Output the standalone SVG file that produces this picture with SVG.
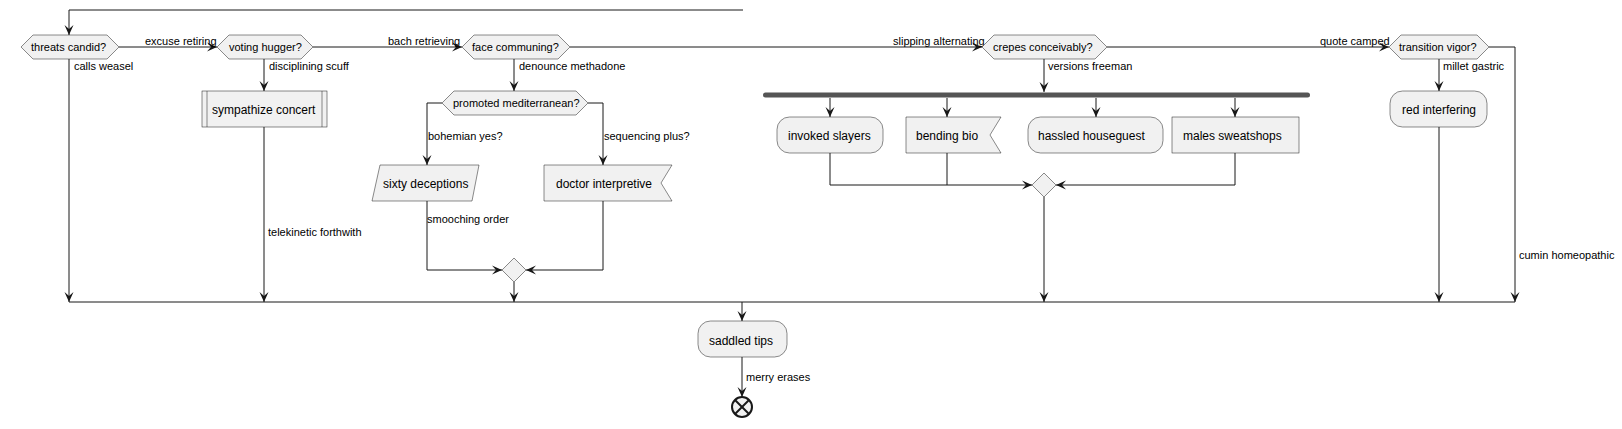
<svg xmlns="http://www.w3.org/2000/svg" width="1622" height="429" viewBox="0 0 1622 429">
<style>
.n{fill:#F1F1F1;stroke:#181818;stroke-width:0.5}
.t{font-family:"Liberation Sans",Arial,sans-serif;font-size:12px;fill:#000}
.h{font-family:"Liberation Sans",Arial,sans-serif;font-size:11px;fill:#000}
.l{font-family:"Liberation Sans",Arial,sans-serif;font-size:11px;fill:#000}
.c{fill:none;stroke:#181818;stroke-width:1}
</style>
<defs>
<marker id="a" viewBox="0 0 10 10" refX="10" refY="5" markerWidth="10" markerHeight="10" markerUnits="userSpaceOnUse" orient="auto">
<polygon points="0,0.5 10,5 0,9.5 4,5" fill="#181818"/>
</marker>
</defs>
<rect width="1622" height="429" fill="#FFFFFF"/>
<g id="connectors">
<polyline class="c" points="743,10 69,10 69,35" marker-end="url(#a)"/>
<line class="c" x1="119" y1="47" x2="217" y2="47" marker-end="url(#a)"/>
<line class="c" x1="313" y1="47" x2="462" y2="47" marker-end="url(#a)"/>
<line class="c" x1="570" y1="47" x2="982" y2="47" marker-end="url(#a)"/>
<line class="c" x1="1107" y1="47" x2="1389" y2="47" marker-end="url(#a)"/>
<line class="c" x1="69" y1="59" x2="69" y2="302" marker-end="url(#a)"/>
<line class="c" x1="264" y1="59" x2="264" y2="91" marker-end="url(#a)"/>
<line class="c" x1="264" y1="127" x2="264" y2="302" marker-end="url(#a)"/>
<line class="c" x1="514" y1="59" x2="514" y2="91" marker-end="url(#a)"/>
<polyline class="c" points="442,103 427,103 427,165" marker-end="url(#a)"/>
<polyline class="c" points="588,103 603,103 603,165" marker-end="url(#a)"/>
<polyline class="c" points="427,201 427,270 502,270" marker-end="url(#a)"/>
<polyline class="c" points="603,201 603,270 526,270" marker-end="url(#a)"/>
<line class="c" x1="514" y1="282" x2="514" y2="302" marker-end="url(#a)"/>
<line class="c" x1="1044" y1="59" x2="1044" y2="92" marker-end="url(#a)"/>
<line class="c" x1="830" y1="98" x2="830" y2="117" marker-end="url(#a)"/>
<line class="c" x1="947" y1="98" x2="947" y2="117" marker-end="url(#a)"/>
<line class="c" x1="1096" y1="98" x2="1096" y2="117" marker-end="url(#a)"/>
<line class="c" x1="1235" y1="98" x2="1235" y2="117" marker-end="url(#a)"/>
<polyline class="c" points="830,153 830,185 1032,185" marker-end="url(#a)"/>
<line class="c" x1="947" y1="153" x2="947" y2="185"/>
<polyline class="c" points="1235,153 1235,185 1056,185" marker-end="url(#a)"/>
<line class="c" x1="1044" y1="197" x2="1044" y2="302" marker-end="url(#a)"/>
<line class="c" x1="1439" y1="59" x2="1439" y2="91" marker-end="url(#a)"/>
<line class="c" x1="1439" y1="127" x2="1439" y2="302" marker-end="url(#a)"/>
<polyline class="c" points="1489,47 1515,47 1515,302" marker-end="url(#a)"/>
<line class="c" x1="69" y1="302" x2="1515" y2="302"/>
<line class="c" x1="742" y1="302" x2="742" y2="321" marker-end="url(#a)"/>
<line class="c" x1="742" y1="357" x2="742" y2="397" marker-end="url(#a)"/>
<text class="l" x="145" y="45">excuse retiring</text>
<text class="l" x="388" y="45">bach retrieving</text>
<text class="l" x="893" y="45">slipping alternating</text>
<text class="l" x="1320" y="45">quote camped</text>
<text class="l" x="74" y="70">calls weasel</text>
<text class="l" x="269" y="70">disciplining scuff</text>
<text class="l" x="519" y="70">denounce methadone</text>
<text class="l" x="1048" y="70">versions freeman</text>
<text class="l" x="1443" y="70">millet gastric</text>
<text class="l" x="428" y="140">bohemian yes?</text>
<text class="l" x="604" y="140">sequencing plus?</text>
<text class="l" x="427" y="223">smooching order</text>
<text class="l" x="268" y="236">telekinetic forthwith</text>
<text class="l" x="1519" y="259">cumin homeopathic</text>
<text class="l" x="746" y="381">merry erases</text>
</g>
<g id="threats">
<polygon class="n" points="21,47 33,35 107,35 119,47 107,59 33,59"/>
<text class="h" x="31" y="51">threats candid?</text>
</g>
<g id="voting">
<polygon class="n" points="217,47 229,35 301,35 313,47 301,59 229,59"/>
<text class="h" x="229" y="51">voting hugger?</text>
</g>
<g id="sympathize">
<rect class="n" x="202" y="91" width="125" height="36"/>
<line class="n" x1="207" y1="91" x2="207" y2="127"/>
<line class="n" x1="322" y1="91" x2="322" y2="127"/>
<text class="t" x="212" y="114">sympathize concert</text>
</g>
<g id="face">
<polygon class="n" points="462,47 474,35 558,35 570,47 558,59 474,59"/>
<text class="h" x="472" y="51">face communing?</text>
</g>
<g id="promoted">
<polygon class="n" points="442,103 454,91 576,91 588,103 576,115 454,115"/>
<text class="h" x="453" y="107">promoted mediterranean?</text>
</g>
<g id="sixty">
<polygon class="n" points="380,165 479,165 472,201 372,201"/>
<text class="t" x="383" y="188">sixty deceptions</text>
</g>
<g id="doctor">
<polygon class="n" points="544,165 672,165 661,183 672,201 544,201"/>
<text class="t" x="556" y="188">doctor interpretive</text>
</g>
<g id="merge1">
<polygon class="n" points="514,258 526,270 514,282 502,270"/>
</g>
<g id="crepes">
<polygon class="n" points="982,47 994,35 1095,35 1107,47 1095,59 994,59"/>
<text class="h" x="993" y="51">crepes conceivably?</text>
</g>
<g id="fork">
<rect x="763" y="92.5" width="547" height="5" rx="2.5" fill="#555555"/>
</g>
<g id="invoked">
<rect class="n" x="777" y="117" width="106" height="36" rx="12.5"/>
<text class="t" x="788" y="140">invoked slayers</text>
</g>
<g id="bending">
<polygon class="n" points="906,117 1001,117 990,135 1001,153 906,153"/>
<text class="t" x="916" y="140">bending bio</text>
</g>
<g id="hassled">
<rect class="n" x="1028" y="117" width="135" height="36" rx="12.5"/>
<text class="t" x="1038" y="140">hassled houseguest</text>
</g>
<g id="males">
<rect class="n" x="1172" y="117" width="127" height="36"/>
<text class="t" x="1183" y="140">males sweatshops</text>
</g>
<g id="merge2">
<polygon class="n" points="1044,173 1056,185 1044,197 1032,185"/>
</g>
<g id="transition">
<polygon class="n" points="1389,47 1401,35 1477,35 1489,47 1477,59 1401,59"/>
<text class="h" x="1399" y="51">transition vigor?</text>
</g>
<g id="red">
<rect class="n" x="1390" y="91" width="97" height="36" rx="12.5"/>
<text class="t" x="1402" y="114">red interfering</text>
</g>
<g id="saddled">
<rect class="n" x="698" y="321" width="89" height="36" rx="12.5"/>
<text class="t" x="709" y="345">saddled tips</text>
</g>
<g id="end">
<circle cx="742" cy="407" r="10" fill="#F1F1F1" stroke="#181818" stroke-width="2"/>
<line x1="735" y1="400" x2="749" y2="414" stroke="#181818" stroke-width="2"/>
<line x1="749" y1="400" x2="735" y2="414" stroke="#181818" stroke-width="2"/>
</g>
</svg>
